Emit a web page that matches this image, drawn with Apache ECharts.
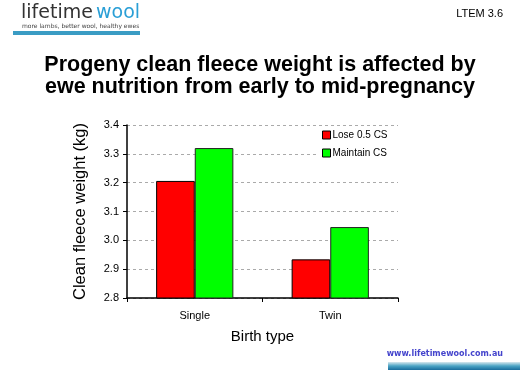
<!DOCTYPE html>
<html><head><meta charset="utf-8">
<script src="https://cdn.jsdelivr.net/npm/echarts@6/dist/echarts.min.js"></script>
<style>html,body{margin:0;padding:0;background:#fff}#c{width:520px;height:370px}</style>
</head><body><div id="c"></div>
<script>
var categories = ['Single', 'Twin'];
var loseCS = [3.206, 2.934];
var maintainCS = [3.32, 3.046];
var yTicks = ['2.8','2.9','3.0','3.1','3.2','3.3','3.4'];

var chart = echarts.init(document.getElementById('c'));
var ff = 'Liberation Sans, Arial, sans-serif';
chart.setOption({
  animation: false,
  backgroundColor: '#fff',
  title: {
    text: 'Progeny clean fleece weight is affected by\newe nutrition from early to mid-pregnancy',
    left: 'center', top: 49,
    textStyle: { fontFamily: ff, fontSize: 21.5, fontWeight: 'bold', color: '#000', lineHeight: 22 }
  },
  legend: {
    orient: 'vertical', left: 316, top: 127, itemWidth: 8, itemHeight: 8, itemGap: 8,
    padding: [3, 12, 3, 6], backgroundColor: '#fff',
    icon: 'rect',
    textStyle: { fontFamily: ff, fontSize: 10, color: '#000', padding: [0,0,0,-3] },
    data: [
      { name: 'Lose 0.5 CS', itemStyle: { borderColor: '#000', borderWidth: 1 } },
      { name: 'Maintain CS', itemStyle: { borderColor: '#000', borderWidth: 1 } }
    ]
  },
  grid: { left: 127, right: 122, top: 125, bottom: 72, containLabel: false },
  xAxis: {
    type: 'category', data: categories,
    name: 'Birth type', nameLocation: 'middle', nameGap: 31,
    nameTextStyle: { fontFamily: ff, fontSize: 15, color: '#000' },
    axisLine: { lineStyle: { color: '#000', width: 1.5 } },
    axisTick: { show: true, length: 4, lineStyle: { color: '#000' } },
    axisLabel: { fontFamily: ff, fontSize: 11, color: '#000', margin: 12 }
  },
  yAxis: {
    type: 'value', min: 2.8, max: 3.4, interval: 0.1,
    name: 'Clean fleece weight (kg)', nameLocation: 'middle', nameGap: 38,
    nameTextStyle: { fontFamily: ff, fontSize: 16.5, color: '#000' },
    axisLine: { show: true, lineStyle: { color: '#000', width: 1.5 } },
    axisTick: { show: true, length: 4, lineStyle: { color: '#000' } },
    axisLabel: { fontFamily: ff, fontSize: 11, color: '#000', margin: 8,
      formatter: function (v) { var s = v.toFixed(1); return yTicks.indexOf(s) >= 0 ? s : ''; } },
    splitLine: { show: true, lineStyle: { color: '#aaa', type: [3, 3], width: 1 } }
  },
  series: [
    { name: 'Lose 0.5 CS', type: 'bar', data: loseCS, barGap: '0%', barCategoryGap: '43%',
      itemStyle: { color: '#ff0000', borderColor: '#000', borderWidth: 1 } },
    { name: 'Maintain CS', type: 'bar', data: maintainCS,
      itemStyle: { color: '#00ff00', borderColor: '#222', borderWidth: 1 } }
  ],
  graphic: [
    { type: 'text', left: 21, top: 4, style: { text: 'lifetime', font: '19px "DejaVu Sans", sans-serif', fill: '#333' } },
    { type: 'text', left: 96, top: 4, style: { text: 'wool', font: '19px "DejaVu Sans", sans-serif', fill: '#2a9fd6' } },
    { type: 'text', left: 22, top: 23, style: { text: 'more lambs, better wool, healthy ewes', font: '6px "DejaVu Sans", sans-serif', fill: '#444' } },
    { type: 'rect', shape: { x: 13, y: 31, width: 127, height: 4 }, style: { fill: '#3a9cc4' } },
    { type: 'text', right: 17, top: 8, style: { text: 'LTEM 3.6', font: '11px Liberation Sans, Arial, sans-serif', fill: '#000' } },
    { type: 'text', right: 17, top: 350, style: { text: 'www.lifetimewool.com.au', font: 'bold 8px "DejaVu Sans", sans-serif', fill: '#4444cc' } },
    { type: 'rect', shape: { x: 388, y: 362, width: 132, height: 8 },
      style: { fill: new echarts.graphic.LinearGradient(0, 0, 0, 1, [
        { offset: 0, color: '#d8e8ee' }, { offset: 0.5, color: '#4aa3c4' }, { offset: 1, color: '#1a6c9c' }]) } }
  ]
});
</script></body></html>
